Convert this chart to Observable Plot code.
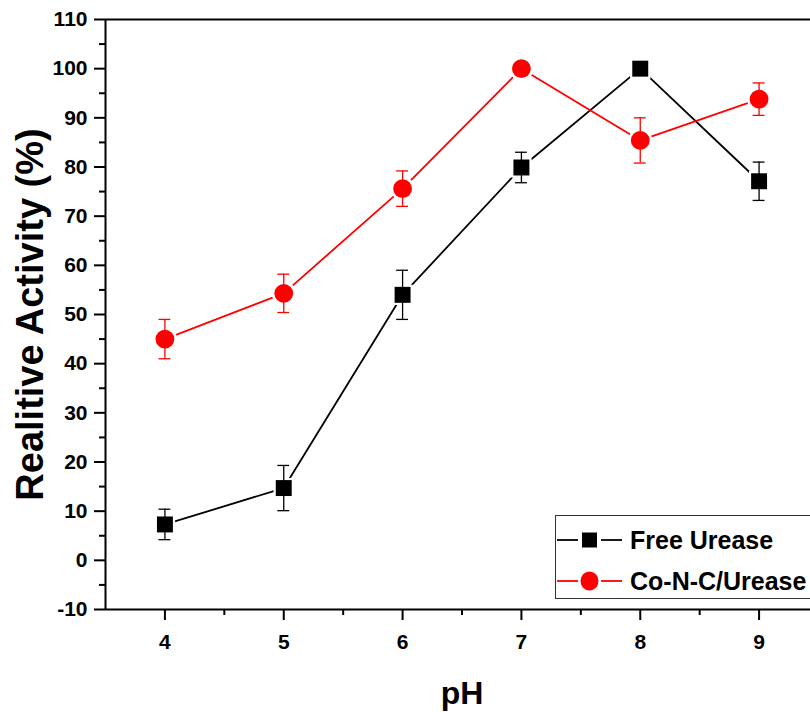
<!DOCTYPE html>
<html>
<head>
<meta charset="utf-8">
<script src="https://cdn.jsdelivr.net/npm/d3@7"></script>
<script src="https://cdn.jsdelivr.net/npm/@observablehq/plot@0.6"></script>
<style>
  html, body { margin: 0; padding: 0; background: #fff; }
  body { width: 810px; height: 712px; overflow: hidden; }
  #wrap { position: relative; width: 810px; height: 712px; overflow: hidden; font-family: "Liberation Sans", Arial, sans-serif; }
  #wrap svg { max-width: none !important; }
  #wrap svg text { font-weight: bold; font-family: "Liberation Sans", Arial, sans-serif; }
  .legend { position: absolute; left: 555px; top: 515px; width: 270px; height: 84px; border: 1.5px solid #333; background: #fff; box-sizing: border-box; }
  .legend .row { position: absolute; left: 0; height: 40px; display: flex; align-items: center; }
  .legend .row span { font-size: 25px; font-weight: bold; color: #000; margin-left: 8px; }
</style>
</head>
<body>
<div id="wrap"></div>
<script>
// pH values and relative activity (%) with error bar half-widths
const ph = [4, 5, 6, 7, 8, 9];
const freeActivity = [7.3, 14.7, 54.0, 79.9, 100, 77.1];
const freeError = [3.1, 4.6, 5.0, 3.1, 0.6, 3.9];
const cncActivity = [45.0, 54.3, 75.6, 100, 85.4, 93.8];
const cncError = [4.0, 3.9, 3.6, 0.6, 4.6, 3.3];

const seriesNames = ["Free Urease", "Co-N-C/Urease"];
const seriesColors = ["#000000", "#ff0000"];

const xTicks = [4, 5, 6, 7, 8, 9];
const xMinorTicks = [4.5, 5.5, 6.5, 7.5, 8.5];
const yTicks = d3.range(-10, 111, 10);
const yMinorTicks = d3.range(-5, 110, 10);

const xLabel = "pH";
const yLabel = "Realitive Activity (%)";

const free = ph.map((p, i) => ({ph: p, v: freeActivity[i], e: freeError[i]}));
const cnc = ph.map((p, i) => ({ph: p, v: cncActivity[i], e: cncError[i]}));

const capHalf = 0.05; // half-width of error bar caps, in pH units

function errorMarks(data, color) {
  return [
    Plot.ruleX(data, {x: "ph", y1: d => d.v - d.e, y2: d => d.v + d.e, stroke: color, strokeWidth: 1.3}),
    Plot.ruleY(data, {y: d => d.v + d.e, x1: d => d.ph - capHalf, x2: d => d.ph + capHalf, stroke: color, strokeWidth: 1.3}),
    Plot.ruleY(data, {y: d => d.v - d.e, x1: d => d.ph - capHalf, x2: d => d.ph + capHalf, stroke: color, strokeWidth: 1.3})
  ];
}

const chart = Plot.plot({
  width: 818,
  height: 712,
  marginLeft: 105,
  marginRight: 0,
  marginTop: 19,
  marginBottom: 103,
  style: {background: "transparent", overflow: "visible", fontSize: "21px", maxWidth: "none"},
  x: {domain: [3.5, 9.5]},
  y: {domain: [-10, 110]},
  marks: [
    // axis frame
    Plot.ruleY([110], {stroke: "#000", strokeWidth: 2}),
    Plot.ruleY([-10], {stroke: "#000", strokeWidth: 2}),
    Plot.ruleX([3.5], {stroke: "#000", strokeWidth: 2}),
    // ticks and tick labels
    Plot.axisY({ticks: yTicks, tickSize: 11, tickPadding: 7, strokeWidth: 2, label: null, tickFormat: d => String(d)}),
    Plot.axisY({ticks: yMinorTicks, tickSize: 6, strokeWidth: 2, text: null, label: null}),
    Plot.axisX({ticks: xTicks, tickSize: 11, tickPadding: 14, strokeWidth: 2, label: null, tickFormat: d => String(d)}),
    Plot.axisX({ticks: xMinorTicks, tickSize: 6, strokeWidth: 2, text: null, label: null}),
    // axis titles
    Plot.text([yLabel], {frameAnchor: "left", textAnchor: "middle", rotate: -90, dx: -75, dy: 0, fontSize: 38, lineAnchor: "middle", fill: "#000"}),
    Plot.text([xLabel], {frameAnchor: "bottom", textAnchor: "middle", dy: 94, fontSize: 32, lineAnchor: "bottom", fill: "#000"}),
    // connecting lines
    Plot.line(free, {x: "ph", y: "v", stroke: seriesColors[0], strokeWidth: 1.8}),
    Plot.line(cnc, {x: "ph", y: "v", stroke: seriesColors[1], strokeWidth: 1.8}),
    // white gaps around markers
    Plot.dot(free, {x: "ph", y: "v", symbol: "square", r: 11.5, fill: "#fff"}),
    Plot.dot(cnc, {x: "ph", y: "v", symbol: "circle", r: 12, fill: "#fff"}),
    // error bars
    ...errorMarks(free, seriesColors[0]),
    ...errorMarks(cnc, seriesColors[1]),
    // markers
    Plot.dot(free, {x: "ph", y: "v", symbol: "square", r: 9, fill: seriesColors[0]}),
    Plot.dot(cnc, {x: "ph", y: "v", symbol: "circle", r: 9.4, fill: seriesColors[1]})
  ]
});

const wrap = document.getElementById("wrap");
wrap.appendChild(chart);

// legend inside the plot area
const legend = document.createElement("div");
legend.className = "legend";
const rowTops = [4, 45];
seriesNames.forEach((name, i) => {
  const row = document.createElement("div");
  row.className = "row";
  row.style.top = rowTops[i] + "px";
  const marker = i === 0
    ? `<rect x="26" y="12.5" width="15" height="15" fill="${seriesColors[i]}"/>`
    : `<ellipse cx="33.5" cy="20" rx="9" ry="9.4" fill="${seriesColors[i]}"/>`;
  row.innerHTML = `<svg width="66" height="40" style="display:block">
      <line x1="1" y1="20" x2="22" y2="20" stroke="${seriesColors[i]}" stroke-width="1.8"/>
      <line x1="45" y1="20" x2="66" y2="20" stroke="${seriesColors[i]}" stroke-width="1.8"/>
      ${marker}
    </svg><span>${name}</span>`;
  legend.appendChild(row);
});
wrap.appendChild(legend);
</script>
</body>
</html>
